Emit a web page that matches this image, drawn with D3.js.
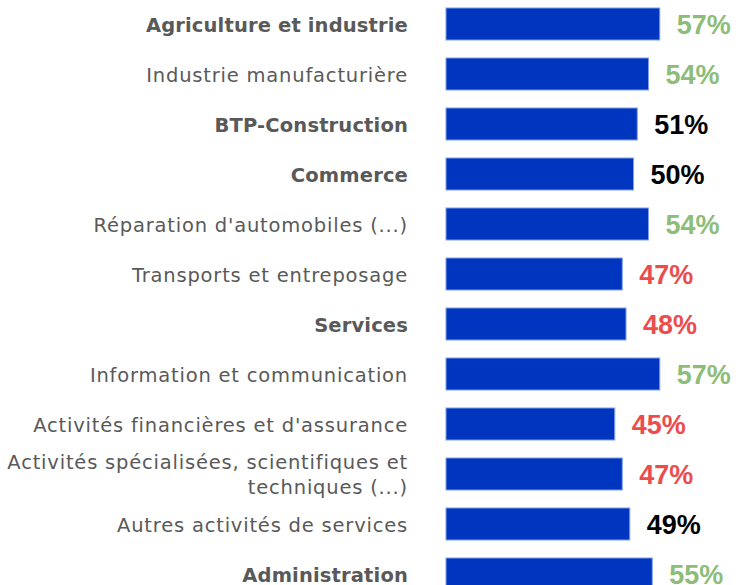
<!DOCTYPE html>
<html>
<head>
<meta charset="utf-8">
<script src="https://cdn.jsdelivr.net/npm/d3@7"></script>
<style>
	body { margin: 0; background: #fff; }
	.cat text { font-family: "DejaVu Sans", "Open Sans", sans-serif; fill: #595959; }
	.pct { font-family: "Liberation Sans", Arial, sans-serif; font-weight: bold; }
</style>
</head>
<body>
<div id="chart"></div>
<script>
// categories (top to bottom), "|" marks a line break
var categories = [
	"Agriculture et industrie",
	"Industrie manufacturière",
	"BTP-Construction",
	"Commerce",
	"Réparation d'automobiles (...)",
	"Transports et entreposage",
	"Services",
	"Information et communication",
	"Activités financières et d'assurance",
	"Activités spécialisées, scientifiques et|techniques (...)",
	"Autres activités de services",
	"Administration"
];
var values = [57, 54, 51, 50, 54, 47, 48, 57, 45, 47, 49, 55];
var isGroup = [true, false, true, true, false, false, true, false, false, false, false, true];
// colour class of the value label
var tone = ["good", "good", "neutral", "neutral", "good", "bad", "bad", "good", "bad", "bad", "neutral", "good"];

var toneColor = { good: '#8dbd79', neutral: '#000000', bad: '#ec4c4c' };

var width = 738, height = 585;
var x0 = 446;

var svg = d3.select('#chart').append('svg')
	.attr('width', width)
	.attr('height', height);

var x = d3.scaleLinear()
	.domain([0, 100])
	.range([x0, x0 + 375]);

var y = d3.scaleBand()
	.domain(categories)
	.range([-1, 599])
	.paddingInner(0.36)
	.paddingOuter(0.18);

// bars
svg.selectAll('rect.bar')
	.data(categories)
	.enter()
	.append('rect')
	.attr('class', 'bar')
	.attr('x', x(0))
	.attr('y', d => y(d))
	.attr('width', (d, i) => x(values[i]) - x(0))
	.attr('height', y.bandwidth())
	.attr('fill', '#0036bf')
	.attr('stroke', '#7f9de6')
	.attr('stroke-width', 1);

// category labels
var axis = svg.append('g')
	.attr('class', 'cat')
	.attr('transform', 'translate(' + 408 + ',1)')
	.call(d3.axisLeft(y).tickSize(0).tickPadding(0));
axis.select('.domain').remove();
axis.selectAll('.tick text')
	.attr('font-size', 19.5)
	.attr('font-weight', (d, i) => isGroup[i] ? 'bold' : 'normal')
	.attr('letter-spacing', (d, i) => isGroup[i] ? '0.15px' : '0.8px')
	.attr('dy', '0.35em')
	.each(function(d) {
		var lines = d.split('|');
		if (lines.length < 2) { d3.select(this).text(lines[0]); return; }
		var t = d3.select(this).text(null);
		lines.forEach(function(line, k) {
			t.append('tspan')
				.attr('x', 0)
				.attr('dy', k == 0 ? '-0.3em' : '1.25em')
				.text(line);
		});
	});

// value labels
svg.selectAll('text.pct')
	.data(categories)
	.enter()
	.append('text')
	.attr('class', 'pct')
	.attr('x', (d, i) => x(values[i]) + 17)
	.attr('y', d => y(d) + y.bandwidth() / 2)
	.attr('dy', '0.36em')
	.attr('font-size', 27)
	.attr('fill', (d, i) => toneColor[tone[i]])
	.text((d, i) => values[i] + '%');
</script>
</body>
</html>
